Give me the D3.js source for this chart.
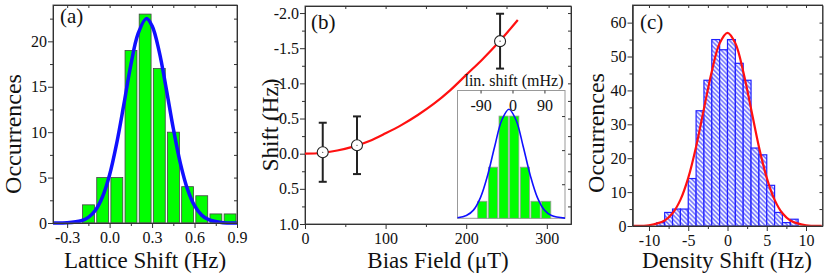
<!DOCTYPE html>
<html>
<head>
<meta charset="utf-8">
<script src="https://cdn.jsdelivr.net/npm/d3@7"></script>
<style>
  body { margin: 0; background: #fff; }
  text { font-family: "Liberation Serif", "Times New Roman", serif; fill: #111; }
</style>
</head>
<body>
<script>
// (a) lattice shift histogram
const latticeEdges = [-0.2, -0.1, 0.0, 0.1, 0.2, 0.3, 0.4, 0.5, 0.6, 0.7, 0.8];
const latticeCounts = [2, 5, 5, 19, 23, 17, 10, 4, 3, 1, 1];
const latticeFitX = [-0.4, -0.3, -0.2, -0.15, -0.1, -0.05, 0, 0.05, 0.1, 0.15, 0.2, 0.26, 0.3, 0.35, 0.4, 0.45, 0.5, 0.55, 0.6, 0.65, 0.7, 0.8, 0.9];
const latticeFitY = [0.0, 0.03, 0.25, 0.62, 1.41, 2.89, 5.31, 8.77, 13.0, 17.4, 20.8, 22.5, 21.7, 18.9, 14.8, 10.4, 6.57, 3.73, 1.9, 0.87, 0.36, 0.04, 0.0];

// (b) shift vs bias field
const biasField = [22, 64.5, 242];
const biasShift = [-0.02, -0.12, -1.60];
const biasErr = [0.42, 0.41, 0.39];
const biasFitX = [0, 20, 40, 60, 80, 100, 120, 140, 160, 180, 200, 220, 240, 264];
const biasFitY = [0, -0.01, -0.045, -0.10, -0.18, -0.29, -0.41, -0.55, -0.71, -0.90, -1.12, -1.34, -1.58, -1.90];

// (b) inset: linear shift histogram
const linEdges = [-100, -70, -40, -10, 20, 50, 80];
const linCounts = [1, 3, 6, 6, 3, 1, 1];
const linFitX = [-155, -130, -110, -90, -70, -50, -30, -10, 10, 30, 50, 70, 90, 110, 148];
const linFitY = [0.03, 0.16, 0.48, 1.23, 2.53, 4.23, 5.77, 6.4, 5.77, 4.23, 2.53, 1.23, 0.48, 0.16, 0.01];
const linTicks = [-90, 0, 90];

// (c) density shift histogram
const densityEdges = [-9, -8, -7, -6, -5, -4, -3, -2, -1, 0, 1, 2, 3, 4, 5, 6, 7, 8];
const densityCounts = [1, 4, 5, 5, 14, 34, 43, 55, 52, 55, 48, 43, 23, 21, 12, 4, 1, 2];
const densityFitX = [-12, -10, -8, -7, -6, -5, -4, -3, -2, -1, 0, 1, 2, 3, 4, 5, 6, 7, 8, 10, 12];
const densityFitY = [0.02, 0.22, 1.63, 3.75, 7.71, 14.2, 23.4, 34.6, 45.6, 53.9, 57, 53.9, 45.6, 34.6, 23.4, 14.2, 7.71, 3.75, 1.63, 0.22, 0.02];

const svg = d3.select("body").append("svg")
    .attr("width", 830)
    .attr("height", 276);

const defs = svg.append("defs");
const hatch = defs.append("pattern")
    .attr("id", "hatch")
    .attr("patternUnits", "userSpaceOnUse")
    .attr("width", 3.2)
    .attr("height", 3.2)
    .attr("patternTransform", "rotate(-45)");
hatch.append("rect").attr("width", 3.2).attr("height", 3.2).attr("fill", "#eef0ff");
hatch.append("line")
    .attr("x1", 0.8).attr("y1", 0).attr("x2", 0.8).attr("y2", 3.2)
    .attr("stroke", "#3a3aff").attr("stroke-width", 1);

function drawAxes(x, y, xt, xm, yt, ym, xfmt, yfmt) {
    const [x0, x1] = x.range();
    const [y0, y1] = y.range();

    // frame
    svg.append("rect")
        .attr("x", x0).attr("y", y1)
        .attr("width", x1 - x0).attr("height", y0 - y1)
        .attr("fill", "none").attr("stroke", "#555").attr("stroke-width", 1);

    const bx = svg.append("g").attr("transform", `translate(0,${y0})`)
        .call(d3.axisBottom(x).tickValues(xt).tickSize(5).tickSizeOuter(0).tickFormat(xfmt));
    svg.append("g").attr("transform", `translate(0,${y0})`)
        .call(d3.axisBottom(x).tickValues(xm).tickSize(3).tickSizeOuter(0).tickFormat(""));
    const ly = svg.append("g").attr("transform", `translate(${x0},0)`)
        .call(d3.axisLeft(y).tickValues(yt).tickSize(5).tickSizeOuter(0).tickFormat(yfmt));
    svg.append("g").attr("transform", `translate(${x0},0)`)
        .call(d3.axisLeft(y).tickValues(ym).tickSize(3).tickSizeOuter(0).tickFormat(""));

    // mirrored inner ticks on top and right
    svg.append("g").attr("transform", `translate(0,${y1})`)
        .call(d3.axisBottom(x).tickValues(xt.concat(xm)).tickSize(3).tickSizeOuter(0).tickFormat(""));
    svg.append("g").attr("transform", `translate(${x1},0)`)
        .call(d3.axisLeft(y).tickValues(yt.concat(ym)).tickSize(3).tickSizeOuter(0).tickFormat(""));

    svg.selectAll(".domain").attr("stroke", "#333");
    svg.selectAll(".tick line").attr("stroke", "#333");
    bx.selectAll("text").attr("font-size", 16).attr("dy", "1em").attr("y", 4);
    ly.selectAll("text").attr("font-size", 16).attr("x", -6);
    svg.selectAll(".tick text").style("font-family", "Liberation Serif, serif");
}

function title(txt, x, y, rot, size) {
    svg.append("text")
        .attr("transform", `translate(${x},${y}) rotate(${rot})`)
        .attr("text-anchor", "middle")
        .attr("font-size", size)
        .text(txt);
}

// ---------- (a)
{
    const x = d3.scaleLinear().domain([-0.4, 0.9]).range([53, 237]);
    const y = d3.scaleLinear().domain([0, 24]).range([223, 5]);

    svg.append("g").selectAll("rect")
        .data(latticeCounts)
        .join("rect")
        .attr("x", (d, i) => x(latticeEdges[i] + 0.009))
        .attr("width", x(0.084) - x(0))
        .attr("y", d => y(d))
        .attr("height", d => y(0) - y(d))
        .attr("fill", "#00ff00")
        .attr("stroke", "#444")
        .attr("stroke-width", 0.8);

    svg.append("path")
        .datum(latticeFitX)
        .attr("d", d3.line().x(d => x(d)).y((d, i) => y(latticeFitY[i])).curve(d3.curveCatmullRom))
        .attr("fill", "none")
        .attr("stroke", "#1010ff")
        .attr("stroke-width", 3.5);

    drawAxes(x, y, [-0.3, 0, 0.3, 0.6, 0.9], [-0.15, 0.15, 0.45, 0.75],
        [0, 5, 10, 15, 20], [2.5, 7.5, 12.5, 17.5, 22.5],
        d => d.toFixed(1), d => d);

    svg.append("text").attr("x", 60).attr("y", 23).attr("font-size", 21).text("(a)");
    title("Occurrences", 21, 134, -90, 24);
    title("Lattice Shift (Hz)", 145, 268, 0, 23);
}

// ---------- (b)
{
    const x = d3.scaleLinear().domain([0, 330]).range([305, 571]);
    const y = d3.scaleLinear().domain([1.0, -2.1]).range([224, 6]);

    drawAxes(x, y, [0, 100, 200, 300], [50, 150, 250],
        [-2, -1.5, -1, -0.5, 0, 0.5, 1], [-1.75, -1.25, -0.75, -0.25, 0.25, 0.75],
        d => d, d => d.toFixed(1));

    svg.append("path")
        .datum(biasFitX)
        .attr("d", d3.line().x(d => x(d)).y((d, i) => y(biasFitY[i])).curve(d3.curveCatmullRom))
        .attr("fill", "none")
        .attr("stroke", "#ff1010")
        .attr("stroke-width", 2.2);

    const pts = svg.append("g");
    biasField.forEach((b, i) => {
        const cx = x(b);
        const top = y(biasShift[i] - biasErr[i]);
        const bot = y(biasShift[i] + biasErr[i]);
        pts.append("line").attr("x1", cx).attr("x2", cx).attr("y1", top).attr("y2", bot)
            .attr("stroke", "#222").attr("stroke-width", 2);
        [top, bot].forEach(yy => pts.append("line")
            .attr("x1", cx - 4).attr("x2", cx + 4).attr("y1", yy).attr("y2", yy)
            .attr("stroke", "#222").attr("stroke-width", 2));
        pts.append("circle").attr("cx", cx).attr("cy", y(biasShift[i])).attr("r", 5.5)
            .attr("fill", "white").attr("stroke", "#222").attr("stroke-width", 1.1);
        pts.append("circle").attr("cx", cx).attr("cy", y(biasShift[i])).attr("r", 0.6)
            .attr("fill", "#222");
    });

    svg.append("text").attr("x", 311).attr("y", 29).attr("font-size", 21).text("(b)");
    title("Shift (Hz)", 278, 125, -90, 23);
    title("Bias Field (\u03bcT)", 438, 268, 0, 23);

    // inset
    const ix = d3.scaleLinear().domain([-155, 148]).range([457.5, 565]);
    const iy = d3.scaleLinear().domain([0, 7.5]).range([218.3, 90.5]);

    svg.append("rect")
        .attr("x", 457.5).attr("y", 90.5)
        .attr("width", 565 - 457.5).attr("height", 218.3 - 90.5)
        .attr("fill", "white").attr("stroke", "#999").attr("stroke-width", 1);

    svg.append("g").selectAll("rect")
        .data(linCounts)
        .join("rect")
        .attr("x", (d, i) => ix(linEdges[i] + 2))
        .attr("width", ix(26) - ix(0))
        .attr("y", d => iy(d))
        .attr("height", d => iy(0) - iy(d))
        .attr("fill", "#00ff00")
        .attr("stroke", "#999")
        .attr("stroke-width", 0.8);

    svg.append("path")
        .datum(linFitX)
        .attr("d", d3.line().x(d => ix(d)).y((d, i) => iy(linFitY[i])).curve(d3.curveCatmullRom))
        .attr("fill", "none")
        .attr("stroke", "#1010ff")
        .attr("stroke-width", 1.6);

    const it = svg.append("g").attr("transform", "translate(0,90.5)")
        .call(d3.axisBottom(ix).tickValues(linTicks).tickSize(3).tickSizeOuter(0).tickFormat(d => d));
    it.select(".domain").remove();
    it.selectAll(".tick line").attr("stroke", "#999");
    it.selectAll("text").attr("font-size", 16).attr("y", 6).attr("dy", "0.9em")
        .style("font-family", "Liberation Serif, serif");
    svg.append("g").attr("transform", "translate(565,0)")
        .call(d3.axisLeft(iy).tickValues([2, 4, 6]).tickSize(3).tickSizeOuter(0).tickFormat(""))
        .call(g => g.select(".domain").remove())
        .selectAll("line").attr("stroke", "#999");

    svg.append("text").attr("x", 514).attr("y", 86).attr("text-anchor", "middle")
        .attr("font-size", 16).text("lin. shift (mHz)");
}

// ---------- (c)
{
    const x = d3.scaleLinear().domain([-12.1, 12.1]).range([632.5, 822.5]);
    const y = d3.scaleLinear().domain([0, 65.2]).range([226, 5]);

    svg.append("g").selectAll("rect")
        .data(densityCounts)
        .join("rect")
        .attr("x", (d, i) => x(densityEdges[i]))
        .attr("width", x(1) - x(0))
        .attr("y", d => y(d))
        .attr("height", d => y(0) - y(d))
        .attr("fill", "url(#hatch)")
        .attr("stroke", "#2020ff")
        .attr("stroke-width", 1.2);

    svg.append("path")
        .datum(densityFitX)
        .attr("d", d3.line().x(d => x(d)).y((d, i) => y(densityFitY[i])).curve(d3.curveCatmullRom))
        .attr("fill", "none")
        .attr("stroke", "#ff1010")
        .attr("stroke-width", 2.2);

    drawAxes(x, y, [-10, -5, 0, 5, 10], [-7.5, -2.5, 2.5, 7.5],
        [0, 10, 20, 30, 40, 50, 60], [5, 15, 25, 35, 45, 55],
        d => d, d => d);

    svg.append("text").attr("x", 640).attr("y", 29).attr("font-size", 21).text("(c)");
    title("Occurrences", 604, 133, -90, 24);
    title("Density Shift (Hz)", 727, 268, 0, 23);
}
</script>
</body>
</html>
